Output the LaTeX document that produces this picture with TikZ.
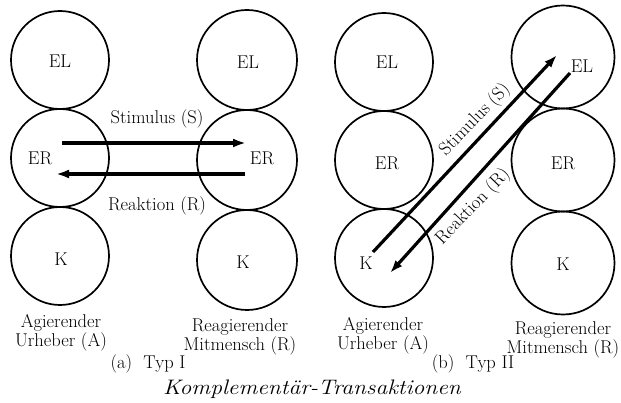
\documentclass[tikz,border=0pt]{standalone}
\usepackage{fontspec}
\usepackage{graphicx}
\usetikzlibrary{arrows.meta}
\begin{document}
\begin{tikzpicture}[x=1pt,y=-1pt,
  ring/.style={circle,draw,line width=1.7pt,inner sep=0pt},
  lbl/.style={inner sep=0pt,font=\fontsize{18.5}{18.5}\selectfont},
  twoline/.style={inner sep=0pt,align=center,font=\fontsize{18.5}{17}\selectfont},
  arr/.style={line width=3.2pt,-{Latex[length=13pt,width=9pt]}},
  arrtxt/.style={inner sep=0pt,font=\fontsize{18.5}{18.5}\selectfont}]
\useasboundingbox (0,0) rectangle (621,403);
% ---------- panel (a)
\node[ring,minimum size=98pt] (aEL1) at (60,60) {};
\node[ring,minimum size=98pt] (aER1) at (60,158) {};
\node[ring,minimum size=98pt] (aK1) at (60,256) {};
\node[ring,minimum size=100pt] (aEL2) at (247,60) {};
\node[ring,minimum size=100pt] (aER2) at (247,160) {};
\node[ring,minimum size=100pt] (aK2) at (247,260) {};
\node[lbl] (taEL1) at (60,61) {EL};
\node[lbl] (taER1) at (40,158) {ER};
\node[lbl] (taK1) at (61,259) {K};
\node[lbl] (taEL2) at (248,62) {EL};
\node[lbl] (taER2) at (262,158) {ER};
\node[lbl] (taK2) at (243,262) {K};
\coordinate (aS1) at (62,143);
\coordinate (aS2) at (246,143);
\coordinate (aR1) at (245,174);
\coordinate (aR2) at (56,174);
\draw[arr] (aS1) -- (aS2);
\draw[arr] (aR1) -- (aR2);
\node[arrtxt] (taS) at (157,119) {Stimulus (S)};
\node[arrtxt] (taR) at (157,206) {Reaktion (R)};
\node[twoline] (aA) at (61,333) {Agierender\\Urheber (A)};
\node[twoline] (aB) at (240,337) {Reagierender\\Mitmensch (R)};
\node[lbl] (aT) at (148,364) {(a)\ \ Typ I};
% ---------- panel (b)
\node[ring,minimum size=98pt] (bEL1) at (384,62) {};
\node[ring,minimum size=98pt] (bER1) at (384,160) {};
\node[ring,minimum size=98pt] (bK1) at (384,258) {};
\node[ring,minimum size=103pt] (bEL2) at (563,57) {};
\node[ring,minimum size=103pt] (bER2) at (563,160) {};
\node[ring,minimum size=103pt] (bK2) at (563,263) {};
\node[lbl] (tbEL1) at (387,62) {EL};
\node[lbl] (tbER1) at (387,163) {ER};
\node[lbl] (tbK1) at (366,263) {K};
\node[lbl] (tbEL2) at (582,66) {EL};
\node[lbl] (tbER2) at (563,163) {ER};
\node[lbl] (tbK2) at (563,264) {K};
\coordinate (bS1) at (373,252);
\coordinate (bS2) at (557,55);
\coordinate (bR1) at (570,73);
\coordinate (bR2) at (390,273);
\draw[arr] (bS1) -- (bS2);
\draw[arr] (bR1) -- (bR2);
\node[arrtxt,rotate=46] (tbS) at (475,120) {Stimulus (S)};
\node[arrtxt,rotate=46] (tbR) at (473,207) {Reaktion (R)};
\node[twoline] (bA) at (383,336) {Agierender\\Urheber (A)};
\node[twoline] (bB) at (563,340) {Reagierender\\Mitmensch (R)};
\node[lbl] (bT) at (473,364) {(b)\ \ Typ II};
% ---------- title
\node[inner sep=0pt,font=\fontsize{21}{21}\selectfont\itshape] (title) at (312,389) {\scalebox{1.12}[1]{Komplementär-Transaktionen}};
\end{tikzpicture}
\end{document}
